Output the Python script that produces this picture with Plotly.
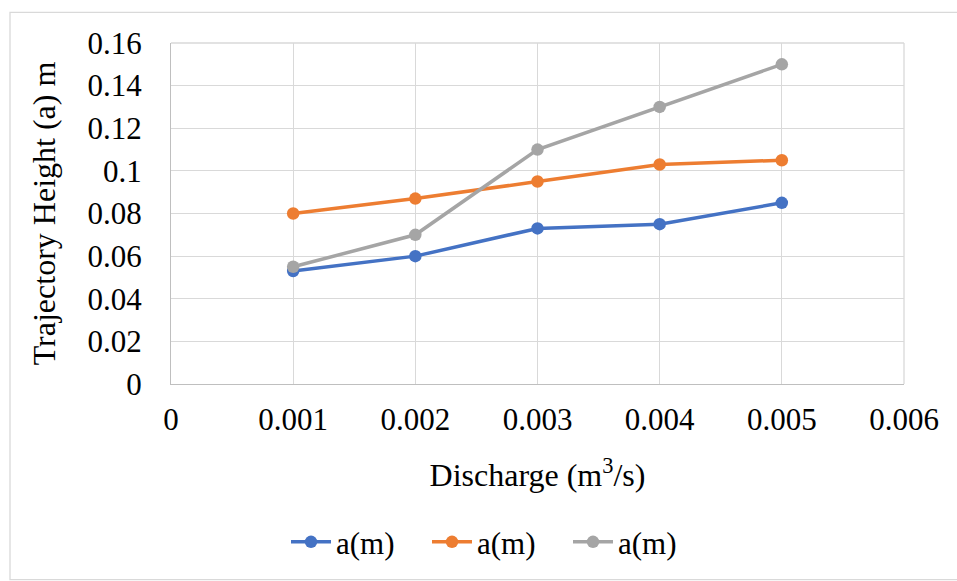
import plotly.graph_objects as go

discharge = [0.001, 0.002, 0.003, 0.004, 0.005]
series_blue = [0.053, 0.060, 0.073, 0.075, 0.085]
series_orange = [0.080, 0.087, 0.095, 0.103, 0.105]
series_gray = [0.055, 0.070, 0.110, 0.130, 0.150]
series_names = ["a(m)", "a(m)", "a(m)"]
colors = ["#4472C4", "#ED7D31", "#A5A5A5"]

x_tickvals = [0, 0.001, 0.002, 0.003, 0.004, 0.005, 0.006]
x_ticktext = ["0", "0.001", "0.002", "0.003", "0.004", "0.005", "0.006"]
y_tickvals = [0, 0.02, 0.04, 0.06, 0.08, 0.10, 0.12, 0.14, 0.16]
y_ticktext = ["0", "0.02", "0.04", "0.06", "0.08", "0.1", "0.12", "0.14", "0.16"]

FONT = "Liberation Serif"
tick_font = dict(family=FONT, size=31, color="black")
title_font = dict(family=FONT, size=32, color="black")

fig = go.Figure()
for ys, name, c in zip([series_blue, series_orange, series_gray], series_names, colors):
    fig.add_trace(go.Scatter(
        x=discharge, y=ys, name=name, mode="lines+markers",
        line=dict(color=c, width=3.5),
        marker=dict(color=c, size=12.5),
        cliponaxis=False,
    ))

L, R, T, B = 171, 53, 43, 193
W, H = 957, 581
pw, ph = W - L - R, H - T - B

fig.update_layout(
    width=W, height=H,
    margin=dict(l=L, r=R, t=T, b=B, pad=0),
    paper_bgcolor="white", plot_bgcolor="white",
    font=dict(family=FONT, size=31, color="black"),
    showlegend=True,
    legend=dict(orientation="h", x=(286 - L) / pw, xanchor="left",
                y=(388 - 548) / ph, yanchor="middle",
                font=tick_font,
                entrywidth=86, entrywidthmode="pixels",
                itemwidth=40, tracegroupgap=0, bgcolor="rgba(0,0,0,0)"),
    xaxis=dict(
        range=[0, 0.006], tickvals=x_tickvals, ticktext=x_ticktext,
        showgrid=True, gridcolor="#D9D9D9", gridwidth=1.3,
        showline=True, linecolor="#BFBFBF", linewidth=1.3,
        zeroline=False, ticks="", ticklabelstandoff=8,
        tickfont=tick_font,
        title=dict(text="Discharge (m<sup>3</sup>/s)", font=title_font, standoff=27),
    ),
    yaxis=dict(
        range=[0, 0.16], tickvals=y_tickvals, ticktext=y_ticktext,
        showgrid=True, gridcolor="#D9D9D9", gridwidth=1.3,
        showline=True, linecolor="#BFBFBF", linewidth=1.3,
        zeroline=False, ticks="", ticklabelstandoff=22,
        tickfont=tick_font,
        title=dict(text="Trajectory Height (a) m", font=title_font, standoff=22),
    ),
    shapes=[
        dict(type="rect", xref="paper", yref="paper",
             x0=(10 - L) / pw, x1=(W + 5 - L) / pw,
             y0=(388 - (H + 5)) / ph, y1=(388 - 12) / ph,
             line=dict(color="#D9D9D9", width=1.3), fillcolor="rgba(0,0,0,0)", layer="below"),
        dict(type="line", xref="paper", yref="paper", x0=1, x1=1, y0=0, y1=1,
             line=dict(color="#D9D9D9", width=1.3), layer="below"),
        dict(type="line", xref="paper", yref="paper", x0=0, x1=1, y0=1, y1=1,
             line=dict(color="#D9D9D9", width=1.3), layer="below"),
    ],
)

fig.write_html("out.html")
